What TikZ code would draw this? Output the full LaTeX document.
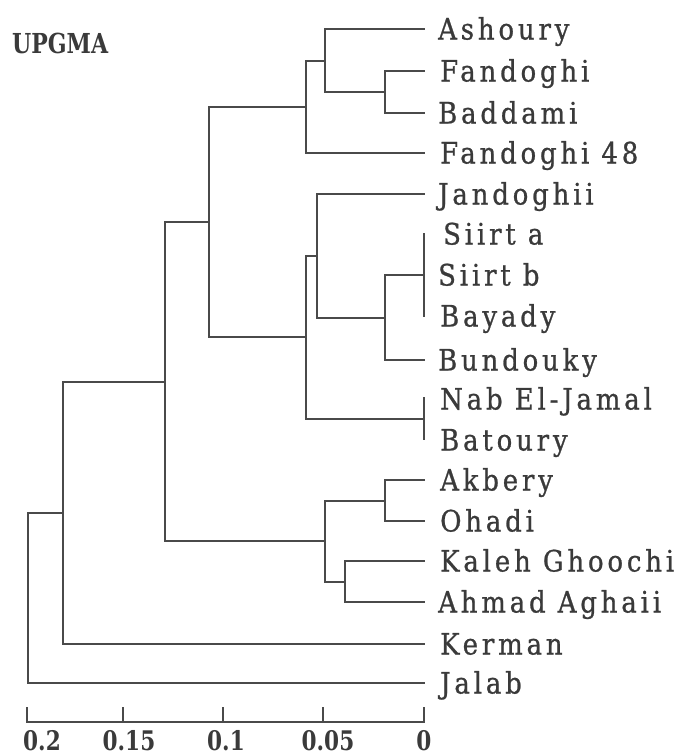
\documentclass[tikz,border=0pt]{standalone}
\usepackage{fontspec}
\setmainfont{DejaVu Serif}
\newfontfamily\leaffont[FakeStretch=0.88,LetterSpace=13,FakeBold=0.8]{DejaVu Serif}
\newfontfamily\axfont[FakeStretch=0.8]{DejaVu Serif}
\definecolor{ink}{HTML}{3A3A3A}
\definecolor{wire}{HTML}{4A4A4A}
\begin{document}
\begin{tikzpicture}[x=1pt,y=-1pt,
  branch/.style={draw=wire,line width=2pt,line cap=rect},
  leaflabel/.style={anchor=base west,inner sep=0pt,text=ink,font=\leaffont\fontsize{29.5}{29.5}\selectfont},
  ticklabel/.style={anchor=base,inner sep=0pt,text=ink,font=\axfont\bfseries\fontsize{27}{27}\selectfont},
  titlelabel/.style={anchor=base west,inner sep=0pt,text=ink,font=\axfont\bfseries\fontsize{27.5}{27.5}\selectfont}]
\useasboundingbox (0,0) rectangle (673,756);
% leaves (line ends)
\coordinate (lAsh) at (424,29);
\coordinate (lFan) at (424,71);
\coordinate (lBad) at (424,113);
\coordinate (lF48) at (424,153);
\coordinate (lJan) at (424,194);
\coordinate (sA) at (424,234);
\coordinate (sB) at (424,275);
\coordinate (sC) at (424,316);
\coordinate (lBun) at (424,360);
\coordinate (nA) at (424,398);
\coordinate (nM) at (424,418.5);
\coordinate (nB) at (424,439);
\coordinate (lAkb) at (424,480);
\coordinate (lOha) at (424,521);
\coordinate (lKal) at (424,561);
\coordinate (lAhm) at (424,602);
\coordinate (lKer) at (424,644);
\coordinate (lJal) at (424,683);
% internal nodes
\coordinate (n1) at (385,92);
\coordinate (n2) at (325,60.5);
\coordinate (n3) at (306,107);
\coordinate (n4) at (385,317.5);
\coordinate (n5) at (317,256);
\coordinate (n6) at (306,337);
\coordinate (n7) at (209,222);
\coordinate (n8) at (385,500.5);
\coordinate (n9) at (345,581.5);
\coordinate (n10) at (325,541);
\coordinate (n11) at (165,381.5);
\coordinate (n12) at (63,513);
\coordinate (root) at (28,598);
% branches
\draw[branch] (n1) |- (lFan);
\draw[branch] (n1) |- (lBad);
\draw[branch] (n2) |- (lAsh);
\draw[branch] (n2) |- (n1);
\draw[branch] (n3) |- (n2);
\draw[branch] (n3) |- (lF48);
\draw[branch] (sA) -- (sC);
\draw[branch] (n4) |- (sB);
\draw[branch] (n4) |- (lBun);
\draw[branch] (n5) |- (lJan);
\draw[branch] (n5) |- (n4);
\draw[branch] (nA) -- (nB);
\draw[branch] (n6) |- (n5);
\draw[branch] (n6) |- (nM);
\draw[branch] (n7) |- (n3);
\draw[branch] (n7) |- (n6);
\draw[branch] (n8) |- (lAkb);
\draw[branch] (n8) |- (lOha);
\draw[branch] (n9) |- (lKal);
\draw[branch] (n9) |- (lAhm);
\draw[branch] (n10) |- (n8);
\draw[branch] (n10) |- (n9);
\draw[branch] (n11) |- (n7);
\draw[branch] (n11) |- (n10);
\draw[branch] (n12) |- (n11);
\draw[branch] (n12) |- (lKer);
\draw[branch] (root) |- (n12);
\draw[branch] (root) |- (lJal);
% labels
\node[titlelabel] (title) at (12,53) {UPGMA};
\node[leaflabel] (tAsh) at (438,39.5) {Ashoury};
\node[leaflabel] (tFan) at (440,81.5) {Fandoghi};
\node[leaflabel] (tBad) at (438,123.5) {Baddami};
\node[leaflabel] (tF48) at (440,163.5) {Fandoghi 48};
\node[leaflabel] (tJan) at (438,204.5) {Jandoghii};
\node[leaflabel] (tSa) at (443,244.5) {Siirt a};
\node[leaflabel] (tSb) at (438,285.5) {Siirt b};
\node[leaflabel] (tBay) at (440,326.5) {Bayady};
\node[leaflabel] (tBun) at (438,370.5) {Bundouky};
\node[leaflabel] (tNab) at (440,409.5) {Nab El-Jamal};
\node[leaflabel] (tBat) at (440,450.5) {Batoury};
\node[leaflabel] (tAkb) at (440,490.5) {Akbery};
\node[leaflabel] (tOha) at (440,531.5) {Ohadi};
\node[leaflabel] (tKal) at (440,571.5) {Kaleh Ghoochi};
\node[leaflabel] (tAhm) at (438,612.5) {Ahmad Aghaii};
\node[leaflabel] (tKer) at (440,654.5) {Kerman};
\node[leaflabel] (tJal) at (440,693.5) {Jalab};
% axis
\coordinate (a0) at (27,722);
\coordinate (a1) at (123,722);
\coordinate (a2) at (223,722);
\coordinate (a3) at (323,722);
\coordinate (a4) at (424,722);
\draw[branch] (a0) -- (a4);
\foreach \t in {a0,a1,a2,a3,a4} \draw[branch] (\t) -- ++(0,-14);
\node[ticklabel] (L0) at (42,750) {0.2};
\node[ticklabel] (L1) at (129,750) {0.15};
\node[ticklabel] (L2) at (226,750) {0.1};
\node[ticklabel] (L3) at (328,750) {0.05};
\node[ticklabel] (L4) at (424,750) {0};
\end{tikzpicture}
\end{document}
